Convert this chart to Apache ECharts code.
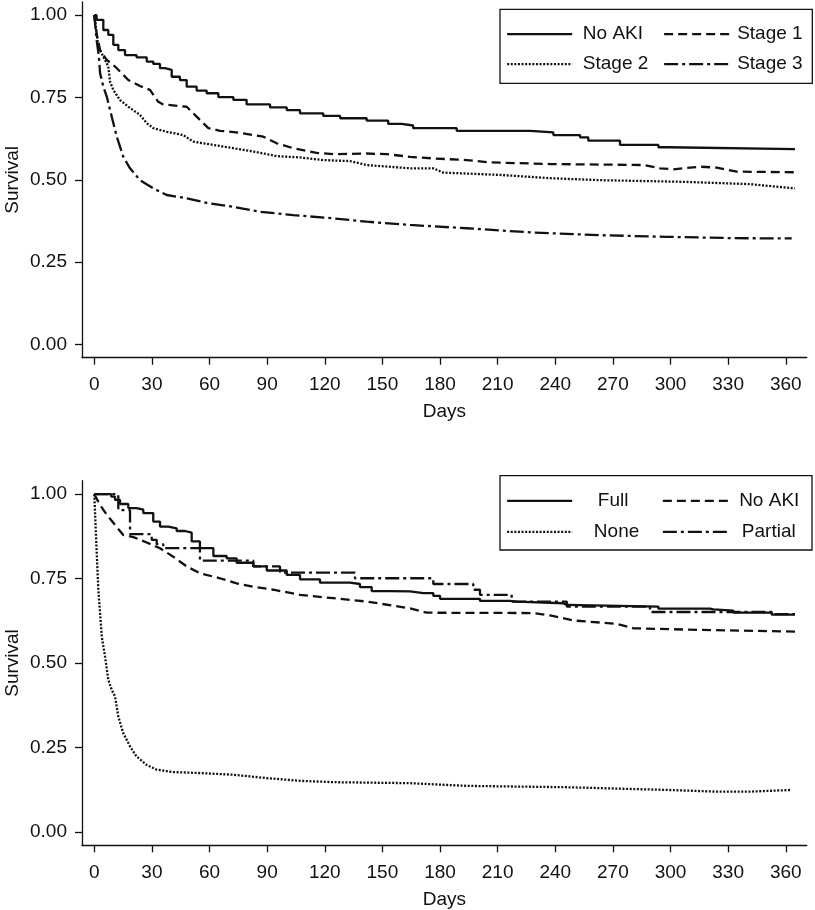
<!DOCTYPE html>
<html>
<head>
<meta charset="utf-8">
<script src="https://cdn.jsdelivr.net/npm/echarts@6/dist/echarts.min.js"></script>
<style>
html,body{margin:0;padding:0;background:#fff;}
#chart{width:815px;height:910px;}
</style>
</head>
<body>
<div id="chart"></div>
<script>
// ---------- data ----------
const xTicks = [0, 30, 60, 90, 120, 150, 180, 210, 240, 270, 300, 330, 360];
const yTicks = [0, 0.25, 0.5, 0.75, 1];

// Top panel: AKI stage
const noAkiDays = [0, 1.2, 4.7, 7.3, 9.9, 12.5, 16, 22, 27.3, 30.7, 34.2, 36.8, 40.3, 44.6, 48.1, 53.3, 58.5, 64.6, 72.4, 79.3, 91.5, 100.2, 107.1, 119.2, 128, 141.8, 153, 160, 166, 188.7, 226.9, 239, 252.9, 257.2, 273.7, 293.7, 298.9, 364.8];
const noAkiSurv = [1.0, 0.986, 0.955, 0.940, 0.910, 0.894, 0.879, 0.872, 0.859, 0.852, 0.839, 0.834, 0.813, 0.803, 0.783, 0.771, 0.763, 0.751, 0.743, 0.729, 0.720, 0.712, 0.702, 0.694, 0.687, 0.680, 0.670, 0.665, 0.657, 0.649, 0.644, 0.636, 0.629, 0.619, 0.606, 0.599, 0.593, 0.593];

const stage1Days = [0, 1.2, 3, 6.5, 10.8, 13.4, 17.7, 23.8, 29, 33.3, 35.9, 48.1, 53.3, 59.4, 65.4, 75.9, 88, 95, 103.6, 115.8, 124.4, 141.8, 152.2, 164.4, 176.5, 193.9, 206, 237.3, 285.9, 294.5, 301.5, 315.4, 324.1, 334.5, 364.8];
const stage1Surv = [1.0, 0.945, 0.894, 0.864, 0.844, 0.829, 0.803, 0.785, 0.773, 0.737, 0.729, 0.722, 0.692, 0.657, 0.649, 0.643, 0.631, 0.611, 0.596, 0.582, 0.578, 0.580, 0.578, 0.570, 0.565, 0.560, 0.553, 0.548, 0.545, 0.535, 0.532, 0.540, 0.537, 0.525, 0.523];

const stage2Days = [0, 2.1, 4.7, 7.3, 8.2, 9.9, 13.4, 17.7, 23.8, 27.3, 30.7, 37.7, 46.3, 51.5, 62, 72.4, 82.8, 95, 107.1, 119.2, 133.1, 141.8, 164.4, 176.5, 181.7, 211.2, 237.3, 263.4, 306.7, 341.4, 364.8];
const stage2Surv = [1.0, 0.905, 0.874, 0.844, 0.798, 0.773, 0.742, 0.722, 0.697, 0.672, 0.657, 0.646, 0.636, 0.616, 0.606, 0.596, 0.586, 0.572, 0.568, 0.560, 0.557, 0.545, 0.535, 0.535, 0.522, 0.515, 0.505, 0.499, 0.494, 0.487, 0.474];

const stage3Days = [0, 1.2, 2.4, 3, 4.7, 6.5, 8.2, 11.7, 15.1, 18.6, 23.8, 30.7, 37.7, 48.1, 58.5, 72.4, 86.3, 103.6, 124.4, 141.8, 164.4, 193.9, 228.6, 263.4, 298, 332.7, 363.1];
const stage3Surv = [1.0, 0.925, 0.874, 0.824, 0.783, 0.753, 0.712, 0.631, 0.570, 0.535, 0.499, 0.474, 0.454, 0.444, 0.430, 0.418, 0.403, 0.393, 0.383, 0.373, 0.363, 0.353, 0.340, 0.332, 0.327, 0.323, 0.322];

// Bottom panel: renal recovery
const fullDays = [0, 7.3, 8.8, 10.8, 13.4, 17.7, 22, 25.5, 30.7, 34.2, 38.5, 42.9, 47.2, 50.7, 55, 62, 68.9, 74.1, 82.8, 89.8, 100.2, 107.1, 117.5, 133.1, 138.3, 144.4, 154, 164.4, 171.3, 176.5, 180, 200.8, 216.4, 219.9, 244.2, 246, 293.7, 320.6, 322.3, 332.7, 352.7, 364.8];
const fullSurv = [1.0, 1.0, 0.993, 0.983, 0.971, 0.959, 0.954, 0.944, 0.919, 0.904, 0.899, 0.891, 0.886, 0.860, 0.840, 0.817, 0.810, 0.797, 0.786, 0.774, 0.761, 0.748, 0.738, 0.734, 0.725, 0.713, 0.712, 0.707, 0.707, 0.699, 0.690, 0.684, 0.682, 0.677, 0.672, 0.667, 0.661, 0.659, 0.655, 0.649, 0.643, 0.643];

const noAki2Days = [0, 3, 6.5, 10.8, 15.1, 20.3, 27.3, 34.2, 41.1, 48.1, 55, 65.4, 74.1, 82.8, 93.2, 107.1, 124.4, 141.8, 164.4, 173, 228.6, 237.3, 249.4, 272, 280.6, 315.4, 364.8];
const noAki2Surv = [1.0, 0.968, 0.939, 0.909, 0.879, 0.873, 0.857, 0.840, 0.815, 0.786, 0.766, 0.751, 0.736, 0.726, 0.717, 0.702, 0.692, 0.682, 0.662, 0.649, 0.648, 0.641, 0.626, 0.616, 0.603, 0.598, 0.593];

const noneDays = [0, 1.2, 2.1, 3.9, 5.6, 7.3, 9.1, 10.8, 12.5, 15.1, 18.6, 22, 27.3, 32.5, 41.1, 55, 72.4, 89.8, 107.1, 124.4, 164.4, 193.9, 246, 298, 324.1, 341.4, 363.1];
const noneSurv = [1.0, 0.835, 0.717, 0.578, 0.519, 0.450, 0.420, 0.401, 0.341, 0.292, 0.253, 0.223, 0.198, 0.184, 0.177, 0.174, 0.169, 0.159, 0.151, 0.147, 0.144, 0.136, 0.132, 0.124, 0.119, 0.119, 0.124];

const partialDays = [0, 12.5, 18.6, 29.9, 32.5, 35.9, 55, 82.8, 96.7, 135.7, 176.5, 197.3, 200.8, 217.3, 246, 289.3, 352.7, 364.8];
const partialSurv = [1.0, 0.953, 0.882, 0.865, 0.852, 0.840, 0.803, 0.786, 0.768, 0.751, 0.734, 0.717, 0.702, 0.682, 0.667, 0.651, 0.645, 0.645];

// ---------- chart ----------
const FONT = '"Liberation Sans", Arial, Helvetica, sans-serif';
const FS = 19;
const INK = '#111';
const zip = (a, b) => a.map((d, i) => [d, b[i]]);

const SOLID = 'solid';
const DASH = [9, 5];
const DOT = [2, 1.6];
const DASHDOT = [14, 4, 3, 4];

function xAxis(gi) {
  return {
    type: 'value', gridIndex: gi, min: -6.4, max: 370.9,
    name: 'Days', nameLocation: 'middle', nameGap: 45, nameMoveOverlap: false,
    nameTextStyle: { fontSize: FS, color: INK, fontFamily: FONT },
    axisLine: { show: true, onZero: false, lineStyle: { color: INK, width: 1.3 } },
    axisTick: { show: true, length: 7, inside: false, customValues: xTicks, lineStyle: { color: INK, width: 1.3 } },
    axisLabel: { show: true, margin: 18, fontSize: FS, color: INK, fontFamily: FONT, customValues: xTicks },
    splitLine: { show: false }
  };
}
function yAxis(gi) {
  return {
    type: 'value', gridIndex: gi, min: -0.04, max: 1.04,
    name: 'Survival', nameLocation: 'middle', nameGap: 60, nameRotate: 90, nameMoveOverlap: false,
    nameTextStyle: { fontSize: FS, color: INK, fontFamily: FONT },
    axisLine: { show: true, onZero: false, lineStyle: { color: INK, width: 1.3 } },
    axisTick: { show: true, length: 7, inside: false, customValues: yTicks, lineStyle: { color: INK, width: 1.3 } },
    axisLabel: { show: true, margin: 15, fontSize: FS, color: INK, fontFamily: FONT, customValues: yTicks,
      formatter: v => Number(v).toFixed(2) },
    splitLine: { show: false }
  };
}
function line(name, gi, days, surv, type, step) {
  return {
    type: 'line', name: name, xAxisIndex: gi, yAxisIndex: gi,
    data: zip(days, surv), step: step ? 'end' : false,
    showSymbol: false, symbol: 'none', silent: true, animation: false,
    lineStyle: { color: INK, width: 2.3, type: type },
    itemStyle: { color: INK }
  };
}
function legend(name, left, top, pad, label) {
  return {
    show: true, data: [name], left: left, top: top, padding: 0, itemGap: 0,
    itemWidth: 65, itemHeight: 14, selectedMode: false,
    formatter: () => label || name,
    itemStyle: { opacity: 0 },
    lineStyle: { width: 2.3 },
    textStyle: { fontSize: FS, color: INK, fontFamily: FONT, padding: [0, 0, 0, pad] }
  };
}

const option = {
  animation: false,
  backgroundColor: '#fff',
  textStyle: { fontFamily: FONT },
  grid: [
    { left: 82, top: 2, width: 724.7, height: 355.7, containLabel: false, outerBoundsMode: 'none' },
    { left: 82, top: 480.7, width: 724.7, height: 364.6, containLabel: false, outerBoundsMode: 'none' }
  ],
  xAxis: [xAxis(0), xAxis(1)],
  yAxis: [yAxis(0), yAxis(1)],
  legend: [
    legend('No AKI', 506, 24.7, 5.7),
    legend('Stage 1', 663, 24.7, 3),
    legend('Stage 2', 506, 54.7, 5.7),
    legend('Stage 3', 663, 54.7, 3),
    legend('Full', 506, 491.3, 20.7),
    legend('No AKI (recovery panel)', 661.7, 491.3, 6.3, 'No AKI'),
    legend('None', 506, 522.3, 16.7),
    legend('Partial', 661.7, 522.3, 9)
  ],
  graphic: [
    { type: 'rect', shape: { x: 500, y: 9.3, width: 312.3, height: 74 }, style: { fill: 'none', stroke: INK, lineWidth: 1.3 }, silent: true },
    { type: 'rect', shape: { x: 500, y: 475.7, width: 312, height: 74.3 }, style: { fill: 'none', stroke: INK, lineWidth: 1.3 }, silent: true }
  ],
  series: [
    line('No AKI', 0, noAkiDays, noAkiSurv, SOLID, true),
    line('Stage 1', 0, stage1Days, stage1Surv, DASH, false),
    line('Stage 2', 0, stage2Days, stage2Surv, DOT, false),
    line('Stage 3', 0, stage3Days, stage3Surv, DASHDOT, false),
    line('Full', 1, fullDays, fullSurv, SOLID, true),
    line('No AKI (recovery panel)', 1, noAki2Days, noAki2Surv, DASH, false),
    line('None', 1, noneDays, noneSurv, DOT, false),
    line('Partial', 1, partialDays, partialSurv, DASHDOT, true)
  ]
};

const chart = echarts.init(document.getElementById('chart'), null, { renderer: 'canvas' });
chart.setOption(option);
</script>
</body>
</html>
